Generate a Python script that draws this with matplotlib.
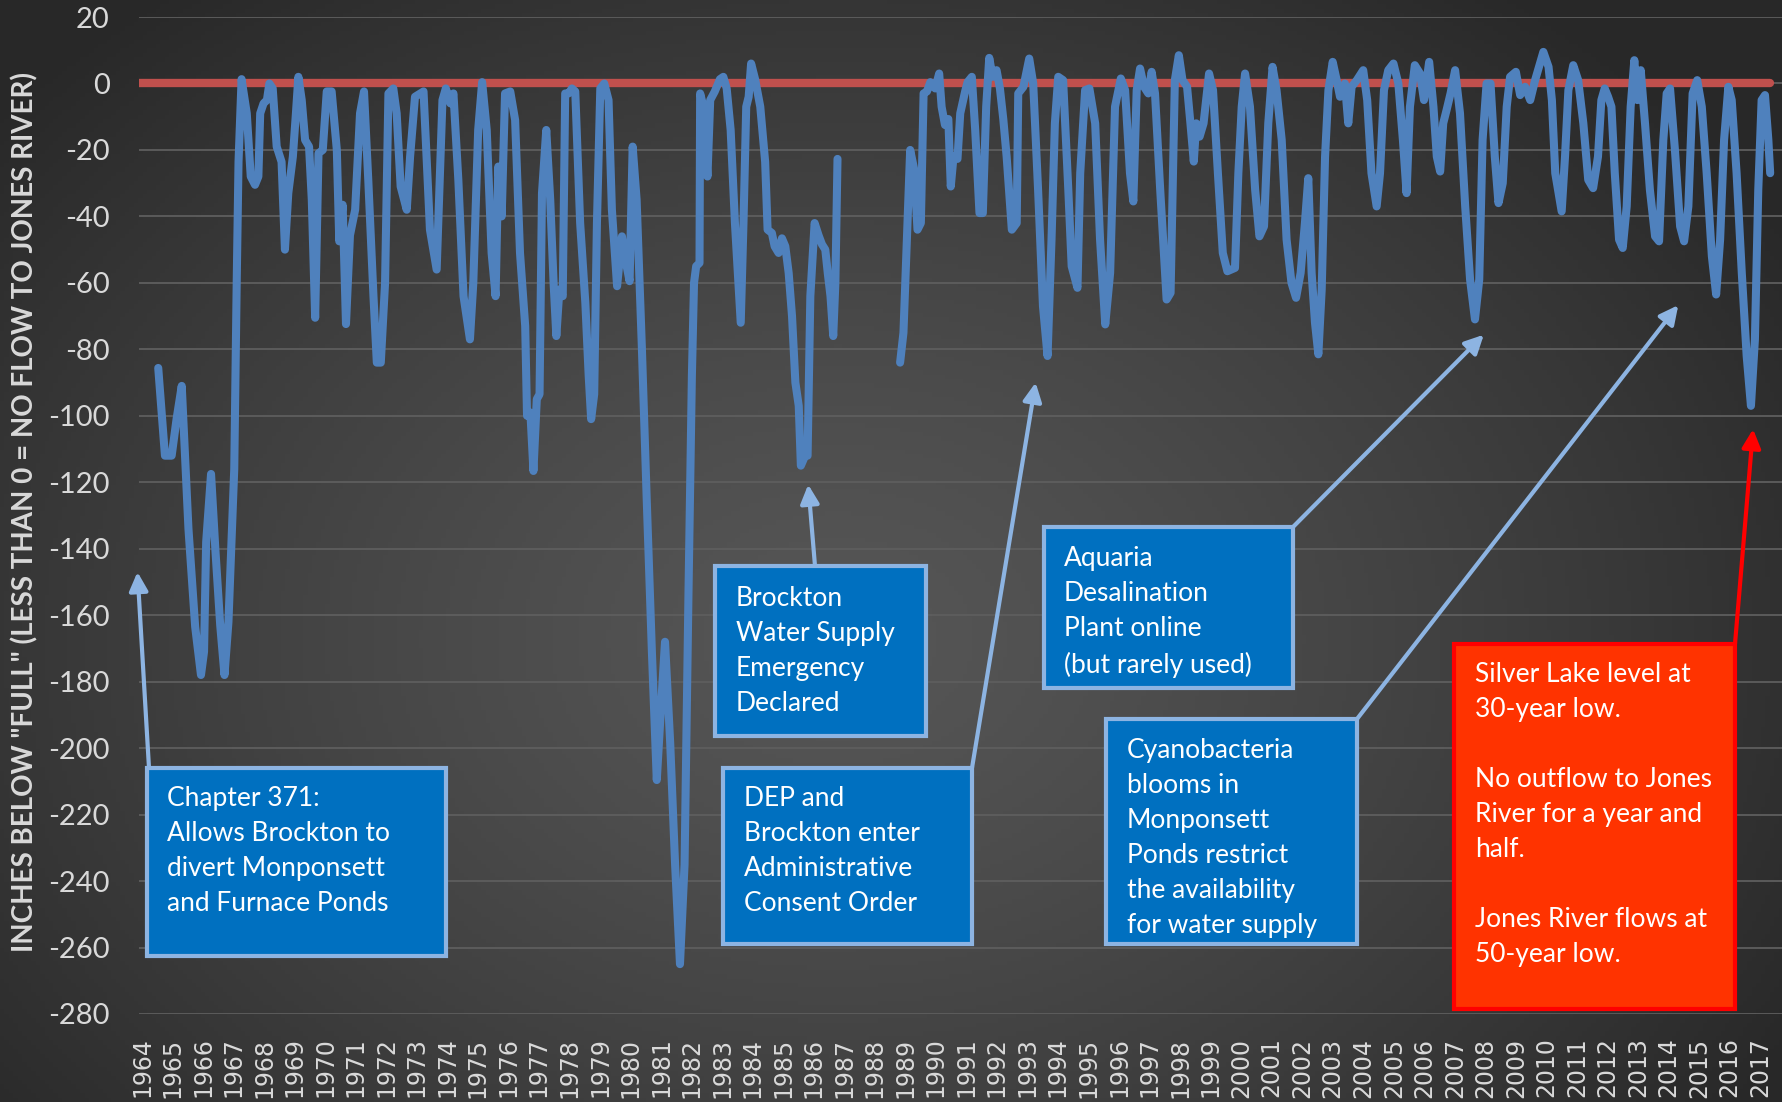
import numpy as np
import matplotlib
matplotlib.use("Agg")
import matplotlib.pyplot as plt
from matplotlib.patches import Rectangle

# ---------------- data ----------------
seg1_years = [1964.53, 1964.75, 1964.97, 1965.13, 1965.30, 1965.52, 1965.74, 1965.93, 1966.03, 1966.10,
              1966.26, 1966.40, 1966.56, 1966.70, 1966.83, 1967.02, 1967.10, 1967.16, 1967.26, 1967.43,
              1967.56, 1967.70, 1967.81, 1967.87, 1967.98, 1968.09, 1968.17, 1968.28, 1968.41, 1968.57,
              1968.68, 1968.79, 1968.94, 1969.04, 1969.12, 1969.23, 1969.34, 1969.47, 1969.56, 1969.67,
              1969.78, 1969.92, 1970.05, 1970.21, 1970.38, 1970.46, 1970.57, 1970.68, 1970.81, 1970.98,
              1971.14, 1971.27, 1971.41, 1971.58, 1971.69, 1971.82, 1971.96, 1972.07, 1972.23, 1972.34,
              1972.47, 1972.67, 1972.78, 1972.94, 1973.22, 1973.43, 1973.65, 1973.84, 1973.95, 1974.10,
              1974.20, 1974.36, 1974.53, 1974.74, 1974.85, 1975.01, 1975.14, 1975.29, 1975.45, 1975.58,
              1975.67, 1975.78, 1975.89, 1976.06, 1976.22, 1976.38, 1976.55, 1976.61, 1976.72, 1976.82,
              1976.93, 1977.02, 1977.10, 1977.24, 1977.37, 1977.48, 1977.57, 1977.67, 1977.78, 1977.86,
              1977.97, 1978.08, 1978.19, 1978.35, 1978.52, 1978.63, 1978.71, 1978.81, 1978.90, 1979.01,
              1979.14, 1979.28, 1979.39, 1979.56, 1979.72, 1979.83, 1979.97, 1980.07, 1980.20, 1980.37,
              1980.53, 1980.70, 1980.86, 1980.99, 1981.13, 1981.30, 1981.46, 1981.62, 1981.77, 1981.90,
              1982.01, 1982.08, 1982.15, 1982.26, 1982.28, 1982.39, 1982.52, 1982.61, 1982.76, 1982.93,
              1983.04, 1983.15, 1983.28, 1983.42, 1983.61, 1983.70, 1983.79, 1983.87, 1983.95, 1984.08,
              1984.25, 1984.41, 1984.49, 1984.63, 1984.72, 1984.85, 1984.96, 1985.07, 1985.18, 1985.29,
              1985.40, 1985.51, 1985.58, 1985.72, 1985.80, 1985.89, 1986.03, 1986.16, 1986.27, 1986.38,
              1986.46, 1986.55, 1986.64, 1986.71, 1986.78]
seg1_levels = [-85.6, -112, -112, -101, -91, -134, -163.5, -178, -171, -138,
               -117.5, -140, -163, -178, -162, -116, -60, -23.6, 1.3, -9,
               -28, -30.5, -28, -9, -6, -5, 0, -1.5, -19, -23.6,
               -50, -33, -22, -9, 2, -5, -17, -19, -35, -70.5,
               -21, -20, -2.4, -2.4, -20, -47.5, -36.5, -72.4, -45.7, -38,
               -9, -2.4, -29, -64, -84, -84, -60, -3, -1.5, -9,
               -31, -38, -22, -4, -2.4, -44, -56, -5, -1.5, -6,
               -3, -29, -64, -77, -60, -14, 0.4, -14, -51, -64,
               -25, -40, -3, -2.4, -11, -51, -73, -100, -99, -116.6,
               -95, -93.5, -33, -14, -35, -60, -76, -62, -64, -3,
               -3, -1.5, -2.4, -42, -66, -88, -101, -93.5, -42, -1.5,
               0, -5, -38, -61, -46, -53, -59.5, -19, -35, -79,
               -125, -171, -209.6, -189, -168, -198.5, -235, -265, -235, -152.5,
               -88, -60, -55, -54, -3, -7, -28, -5, -2.4, 1.3,
               2, -1.5, -14, -42, -72, -42, -7, -4, 6, 1.3,
               -7, -23.6, -44, -45, -49, -51, -46.6, -49, -57, -70,
               -90, -97, -115, -112, -112, -64, -42, -45.7, -48.4, -50,
               -57, -64, -76, -60, -22.7]

seg2_years = [1988.83, 1988.94, 1989.05, 1989.16, 1989.29, 1989.40, 1989.51, 1989.60, 1989.71, 1989.82,
              1989.98, 1990.11, 1990.19, 1990.30, 1990.41, 1990.49, 1990.58, 1990.71, 1990.80, 1990.96,
              1991.04, 1991.18, 1991.29, 1991.43, 1991.54, 1991.65, 1991.75, 1991.86, 1991.99, 1992.10,
              1992.21, 1992.32, 1992.49, 1992.65, 1992.70, 1992.87, 1993.06, 1993.19, 1993.35, 1993.51,
              1993.66, 1993.79, 1993.90, 1994.01, 1994.17, 1994.34, 1994.45, 1994.64, 1994.73, 1994.89,
              1995.03, 1995.22, 1995.38, 1995.55, 1995.71, 1995.87, 1996.06, 1996.20, 1996.36, 1996.47,
              1996.58, 1996.69, 1996.82, 1996.96, 1997.07, 1997.18, 1997.35, 1997.56, 1997.69, 1997.83,
              1997.96, 1998.08, 1998.23, 1998.34, 1998.45, 1998.53, 1998.64, 1998.77, 1998.95, 1999.08,
              1999.24, 1999.40, 1999.55, 1999.80, 1999.91, 2000.02, 2000.13, 2000.29, 2000.46, 2000.60,
              2000.75, 2000.89, 2001.03, 2001.16, 2001.33, 2001.49, 2001.65, 2001.80, 2001.95, 2002.09,
              2002.20, 2002.31, 2002.42, 2002.53, 2002.64, 2002.75, 2002.86, 2003.00, 2003.13, 2003.24,
              2003.40, 2003.51, 2003.62, 2003.79, 2004.00, 2004.13, 2004.27, 2004.44, 2004.55, 2004.68,
              2004.82, 2004.99, 2005.15, 2005.30, 2005.42, 2005.53, 2005.69, 2005.86, 2005.99, 2006.16,
              2006.30, 2006.41, 2006.52, 2006.62, 2006.73, 2006.86, 2007.01, 2007.17, 2007.34, 2007.50,
              2007.66, 2007.80, 2007.91, 2008.04, 2008.17, 2008.31, 2008.43, 2008.57, 2008.70, 2008.81,
              2009.00, 2009.14, 2009.30, 2009.47, 2009.63, 2009.90, 2010.07, 2010.18, 2010.29, 2010.50,
              2010.61, 2010.72, 2010.88, 2011.04, 2011.21, 2011.37, 2011.53, 2011.69, 2011.80, 2011.91,
              2012.02, 2012.13, 2012.24, 2012.38, 2012.50, 2012.63, 2012.76, 2012.88, 2012.98, 2013.09,
              2013.23, 2013.39, 2013.56, 2013.69, 2013.83, 2013.94, 2014.05, 2014.21, 2014.38, 2014.51,
              2014.65, 2014.79, 2014.94, 2015.09, 2015.25, 2015.42, 2015.56, 2015.69, 2015.82, 2015.96,
              2016.07, 2016.23, 2016.40, 2016.56, 2016.70, 2016.83, 2016.94, 2017.05, 2017.16, 2017.27,
              2017.33]
seg2_levels = [-84, -75, -47.5, -20, -25.8, -44, -42, -3, -2.4, 0.4,
               -1.5, 3, -7, -12.5, -10.7, -31, -22, -22.7, -9, -2.4,
               0.4, 2, -14, -39, -39, -7, 7.7, 2, 4, -1.5,
               -10.7, -22, -44, -42, -3, -1, 7.5, 0, -32, -67,
               -82, -47, -12, 2, 1, -32, -55, -61.5, -27, -2,
               -1.5, -12, -47, -72.5, -57, -7, 1.5, -2, -27, -35.5,
               -2, 4.5, -1, -3, 3.5, -3, -32, -65, -63, 1,
               8.5, 1, -1, -12, -23.5, -12, -16, -12, 3, -2,
               -27, -51, -56.5, -55.5, -27, -7, 3, -7, -32, -46,
               -43, -12, 5, -2, -17, -47, -60, -64.5, -57, -42,
               -28.5, -57, -72, -81.5, -62, -22, -2, 6.5, 1, -4,
               0, -12, -1, 1, 4, -5, -27, -37, -27, -2,
               4, 6, 0, -17, -33, -7, 5.5, 3, -5, 6.5,
               -7, -22, -26.5, -12, -8, -3, 4, -9, -37, -59,
               -71, -59, -17, 0, 0, -22, -36, -30, -7, 2,
               3.5, -3.5, -1, -5, 1, 9.5, 5, -5, -27, -38.5,
               -22, -2, 5.5, 1, -12, -29, -31.5, -22, -5, -1.5,
               -4, -7, -27, -47, -49.5, -37, -7, 7, -5, 4,
               -12, -32, -46, -47.5, -17, -3, -1.5, -20, -43, -47.5,
               -37, -3, 1, -7, -27, -52, -63.5, -47, -17, -1,
               -5, -27, -57, -82, -97, -77, -32, -5, -3.5, -17,
               -27]

full_line_years = [1963.90, 2017.33]
full_line_levels = [0, 0]

year_labels = list(range(1964, 2018))
y_ticks = list(range(-280, 21, 20))

annotations = [
    "Chapter 371:\nAllows Brockton to\ndivert Monponsett\nand Furnace Ponds",
    "Brockton\nWater Supply\nEmergency\nDeclared",
    "DEP and\nBrockton enter\nAdministrative\nConsent Order",
    "Aquaria\nDesalination\nPlant online\n(but rarely used)",
    "Cyanobacteria\nblooms in\nMonponsett\nPonds restrict\nthe availability\nfor water supply",
    "Silver Lake level at\n30-year low.\n\nNo outflow to Jones\nRiver for a year and\nhalf.\n\nJones River flows at\n50-year low.",
]
arrow_targets = [(1963.85, -147), (1985.82, -120.7), (1993.27, -90),
                 (2007.95, -75.6), (2014.32, -66.7), (2016.77, -104)]

# ---------------- figure ----------------
W, H = 1783, 1102
fig = plt.figure(figsize=(W / 100, H / 100), dpi=100)

def fx(x):
    return x / W

def fy(y):
    return 1 - y / H

# background radial gradient
bg = fig.add_axes([0, 0, 1, 1], zorder=-10)
gx, gy = np.meshgrid(np.linspace(0, 1, 400), np.linspace(0, 1, 250))
r = np.sqrt(((gx - 0.47) / 0.62) ** 2 + ((gy - 0.58) / 0.75) ** 2)
r = np.clip(r, 0, 1)
c = (0x56 - (0x56 - 0x28) * r ** 1.3) / 255.0
img = np.dstack([c, c, c])
bg.imshow(img, extent=[0, 1, 0, 1], aspect='auto', origin='upper')
bg.axis('off')

ax = fig.add_axes([fx(139), fy(1014), fx(1783 - 139), fy(17) - fy(1014)])
ax.patch.set_alpha(0)
ax.set_xlim(1963.90, 2017.75)
ax.set_ylim(-280, 20)

for s in ax.spines.values():
    s.set_visible(False)

ax.set_yticks(y_ticks)
ax.set_yticklabels([str(v) for v in y_ticks], fontsize=21, color='#D9D9D9', family='Lato')
ax.tick_params(axis='y', length=0, pad=21)
ax.set_xticks(year_labels)
ax.set_xticklabels([str(v) for v in year_labels], rotation=90, fontsize=17,
                   color='#D9D9D9', family='DejaVu Sans')
ax.tick_params(axis='x', length=0, pad=17)
ax.grid(axis='y', color='#5E5E5E', linewidth=1.3)
ax.grid(axis='x', visible=False)
ax.set_axisbelow(True)

ax.plot(full_line_years, full_line_levels, color='#C0504D', linewidth=6,
        solid_capstyle='round', zorder=2)
for yrs, lv in ((seg1_years, seg1_levels), (seg2_years, seg2_levels)):
    ax.plot(yrs, lv, color='#4F81BD', linewidth=5.8, solid_joinstyle='round',
            solid_capstyle='round', zorder=3)

fig.text(fx(25), fy(512), 'INCHES BELOW "FULL" (LESS THAN 0 = NO FLOW TO JONES RIVER)',
         rotation=90, ha='center', va='center', fontsize=20, fontweight='bold',
         color='#D9D9D9', family='Lato')

# annotation boxes (left, top, right, bottom in px), text origin, arrow tail
boxes = [(147, 768, 446, 956), (715, 566, 926, 736), (723, 768, 972, 944),
         (1044, 527, 1293, 688), (1106, 719, 1357, 944), (1454, 644, 1735, 1009)]
text_pos = [(167, 786), (736, 586), (744, 786), (1064, 546), (1127, 738), (1475, 662)]
tails = [(149, 768), (815, 566), (972, 768), (1293, 527), (1357, 719), (1735, 644)]

for i, (txt, (l, t, rr, b), (tx, ty), (ax_x, ax_y), tgt) in enumerate(
        zip(annotations, boxes, text_pos, tails, arrow_targets)):
    red = (i == 5)
    acol = '#FF0000' if red else '#8DB4E2'
    ax.annotate('', xy=tgt, xycoords='data', xytext=(fx(ax_x), fy(ax_y)),
                textcoords='figure fraction', annotation_clip=False,
                arrowprops=dict(arrowstyle='-|>', color=acol, lw=3,
                                mutation_scale=28, shrinkA=0, shrinkB=0))
    fig.patches.append(Rectangle((fx(l), fy(b)), fx(rr) - fx(l), fy(t) - fy(b),
                                 transform=fig.transFigure,
                                 facecolor='#FF3300' if red else '#0070C0',
                                 edgecolor='#FF0000' if red else '#8DB4E2',
                                 linewidth=3, zorder=5))
    fig.text(fx(tx), fy(ty), txt, ha='left', va='top', fontsize=19, color='white',
             family='Lato', linespacing=1.5, zorder=6)

fig.savefig('out.png', dpi=100)
